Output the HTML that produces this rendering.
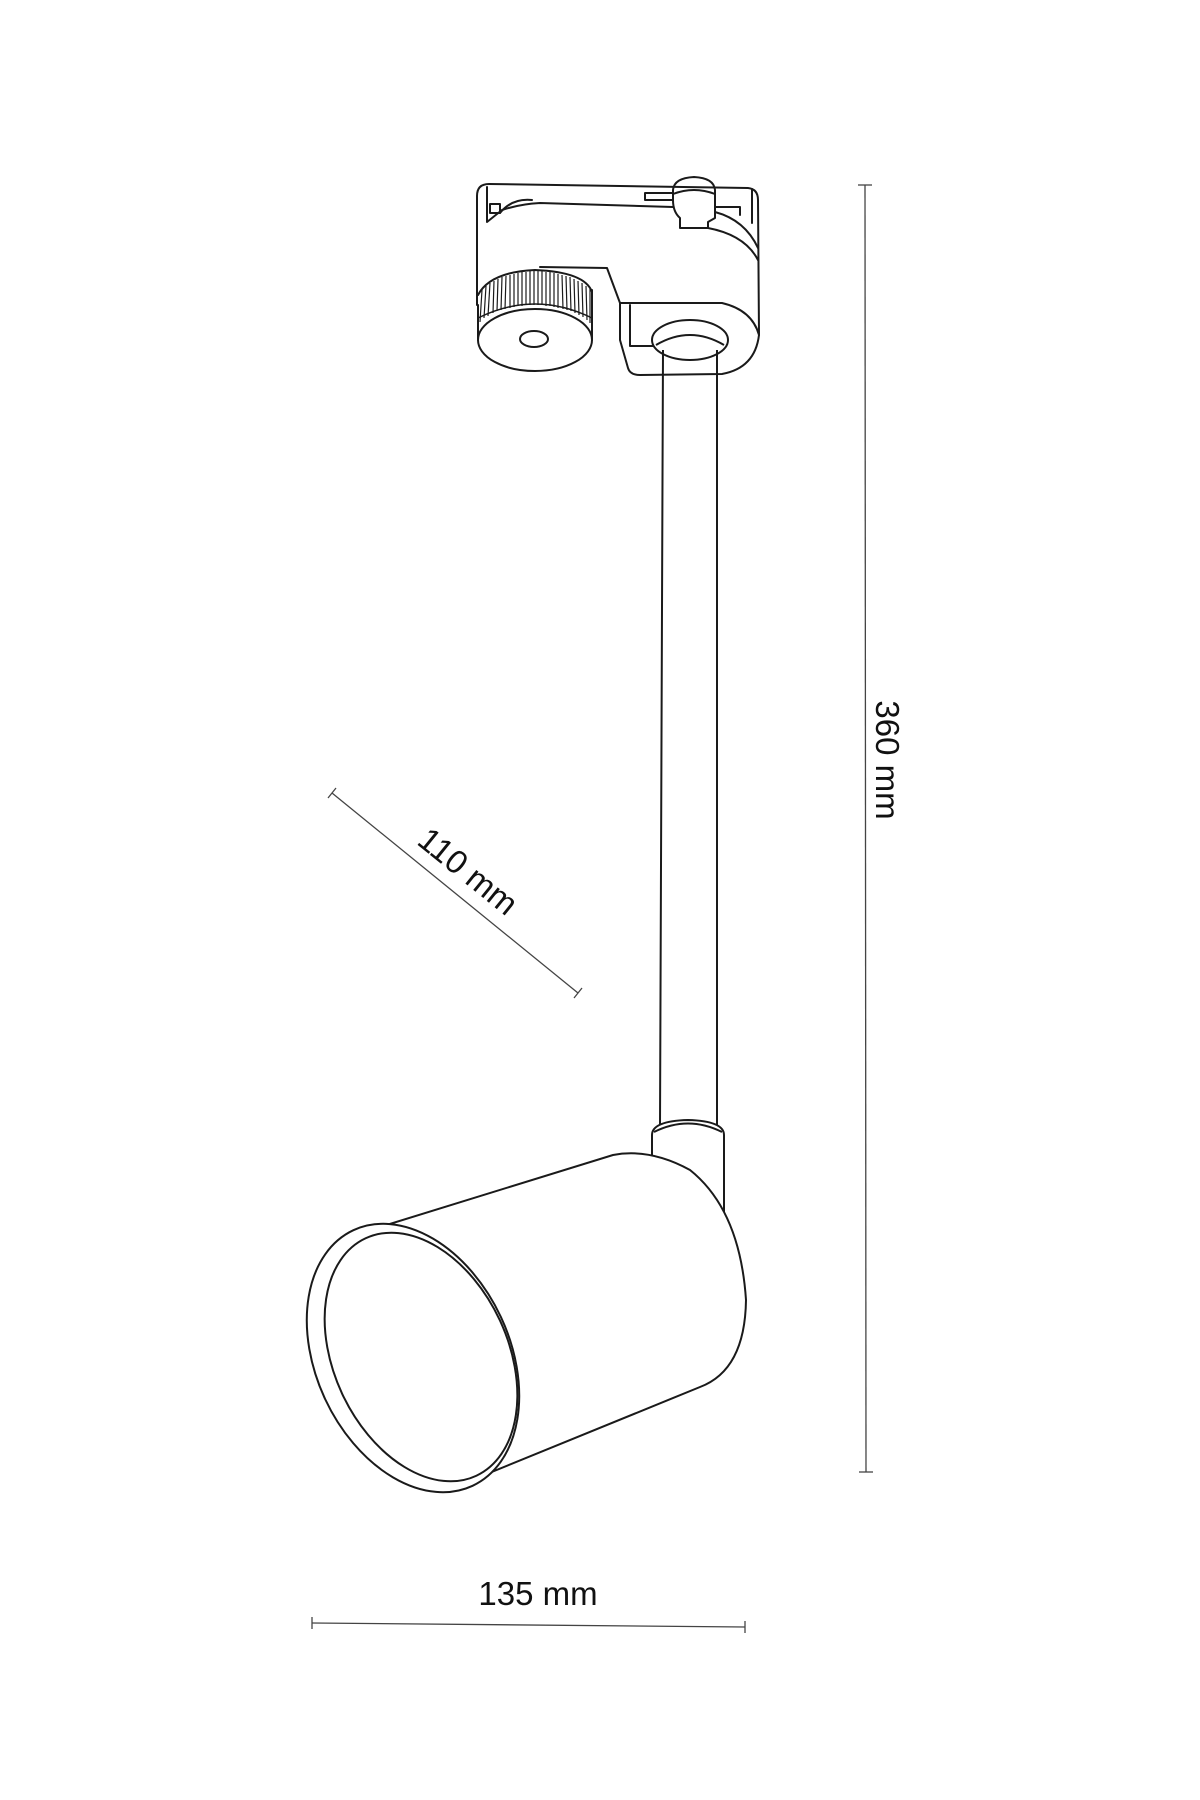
<!DOCTYPE html>
<html><head><meta charset="utf-8"><style>
html,body{margin:0;padding:0;background:#fff;}
svg{display:block;}
text{font-family:"Liberation Sans",sans-serif;fill:#111;}
</style></head><body>
<svg width="1200" height="1800" viewBox="0 0 1200 1800" xmlns="http://www.w3.org/2000/svg">
<g fill="none" stroke="#1a1a1a" stroke-width="2" stroke-linejoin="round" stroke-linecap="round">
<!-- head body -->
<path d="M477,305 L477,196 Q477,184 489,184 L748,188 Q758,189 758,200 L759,335 Q755,368 722,374 L640,375 Q630,375 628,368 L620,340 L620,303 L607,268 L540,267"/>
<path d="M487,187 L487,222 L502,210 Q520,204 540,203 L673,207"/>
<path d="M490,204 L500,204 L500,213 L490,213 Z"/>
<path d="M500,213 Q512,198 532,200"/>
<rect x="645" y="193" width="28" height="7"/>
<path d="M752,189 L752,223"/>
<path d="M715,207 L740,207 L740,215"/>
<path d="M715,212 Q745,220 758,248"/>
<path d="M708,228 Q745,235 758,260"/>
<path d="M680,228 L680,218 Q673,212 673,200 L673,190 Q674,178 694,177 Q714,178 715,190 L715,218 L708,222 L708,228 L680,228"/>
<path d="M673,194 Q694,186 715,194"/>
<!-- bracket inner -->
<path d="M620,303 L722,303 Q752,310 759,335"/>
<path d="M630,305 L630,346 L655,346"/>
<!-- knob -->
<path d="M478,305 L478,340"/>
<path d="M592,290 L592,340"/>
<path d="M478,295 Q490,272 535,270 Q585,272 592,292"/>
<ellipse cx="535" cy="340" rx="57" ry="31" fill="#fff"/>
<ellipse cx="534" cy="339" rx="14" ry="8"/>
<path d="M478,318 Q535,290 592,318" stroke-width="1.5"/>
</g>
<!-- knurl -->
<g stroke="#1a1a1a" stroke-width="1.2">
<line x1="482" y1="290" x2="480" y2="322"/><line x1="486" y1="286" x2="484" y2="318"/><line x1="490" y1="283" x2="488" y2="316"/><line x1="494" y1="281" x2="493" y2="313"/><line x1="498" y1="279" x2="497" y2="311"/><line x1="502" y1="277" x2="501" y2="310"/><line x1="506" y1="276" x2="505" y2="309"/><line x1="510" y1="275" x2="510" y2="308"/><line x1="514" y1="274" x2="514" y2="307"/><line x1="518" y1="273" x2="518" y2="306"/><line x1="522" y1="272" x2="522" y2="306"/><line x1="526" y1="272" x2="526" y2="305"/><line x1="530" y1="271" x2="530" y2="305"/><line x1="534" y1="271" x2="534" y2="305"/><line x1="538" y1="271" x2="538" y2="305"/><line x1="542" y1="271" x2="542" y2="305"/><line x1="546" y1="272" x2="546" y2="306"/><line x1="550" y1="272" x2="550" y2="306"/><line x1="554" y1="273" x2="554" y2="307"/><line x1="558" y1="274" x2="558" y2="308"/><line x1="562" y1="275" x2="563" y2="309"/><line x1="566" y1="276" x2="567" y2="310"/><line x1="570" y1="277" x2="571" y2="311"/><line x1="574" y1="279" x2="575" y2="313"/><line x1="578" y1="281" x2="579" y2="315"/><line x1="582" y1="283" x2="583" y2="317"/><line x1="586" y1="286" x2="587" y2="320"/><line x1="590" y1="289" x2="590" y2="323"/>
</g>
<g fill="none" stroke="#1a1a1a" stroke-width="2">
<!-- collar top -->
<ellipse cx="690" cy="340" rx="38" ry="20" fill="#fff"/>
<path d="M656,345 Q690,325 724,345"/>
<!-- stem -->
<path d="M663,350 L660,1125 M717,350 L717,1125" fill="#fff"/>
<path d="M652,1135 Q652,1121 688,1120 Q724,1121 724,1135 L724,1213 M652,1135 L652,1165"/>
<path d="M654,1132 Q688,1115 722,1132" />
<!-- cylinder -->
<path d="M380,1227 L613,1155 Q650,1148 690,1170 Q740,1210 746,1300 Q745,1370 700,1387 L477,1478" fill="#fff"/>
<ellipse cx="413" cy="1358" rx="97" ry="141" transform="rotate(-25 413 1358)" fill="#fff"/>
<ellipse cx="421" cy="1357" rx="87" ry="131" transform="rotate(-25 421 1357)"/>
</g>
<!-- dimensions -->
<g stroke="#444" stroke-width="1.3">
<line x1="865" y1="185" x2="866" y2="1472"/>
<line x1="858" y1="185" x2="872" y2="185"/><line x1="859" y1="1472" x2="873" y2="1472"/>
<line x1="332" y1="793" x2="578" y2="993"/>
<line x1="328" y1="798" x2="336" y2="788"/><line x1="574" y1="998" x2="582" y2="988"/>
<line x1="312" y1="1623" x2="745" y2="1627"/>
<line x1="312" y1="1617" x2="312" y2="1629"/><line x1="745" y1="1621" x2="745" y2="1633"/>
</g>
<text x="538" y="1605" font-size="33" text-anchor="middle">135 mm</text>
<text x="0" y="0" font-size="33" text-anchor="middle" transform="translate(461,880) rotate(39)">110 mm</text>
<text x="0" y="0" font-size="33" text-anchor="middle" transform="translate(876,760) rotate(90)">360 mm</text>
</svg>
</body></html>
